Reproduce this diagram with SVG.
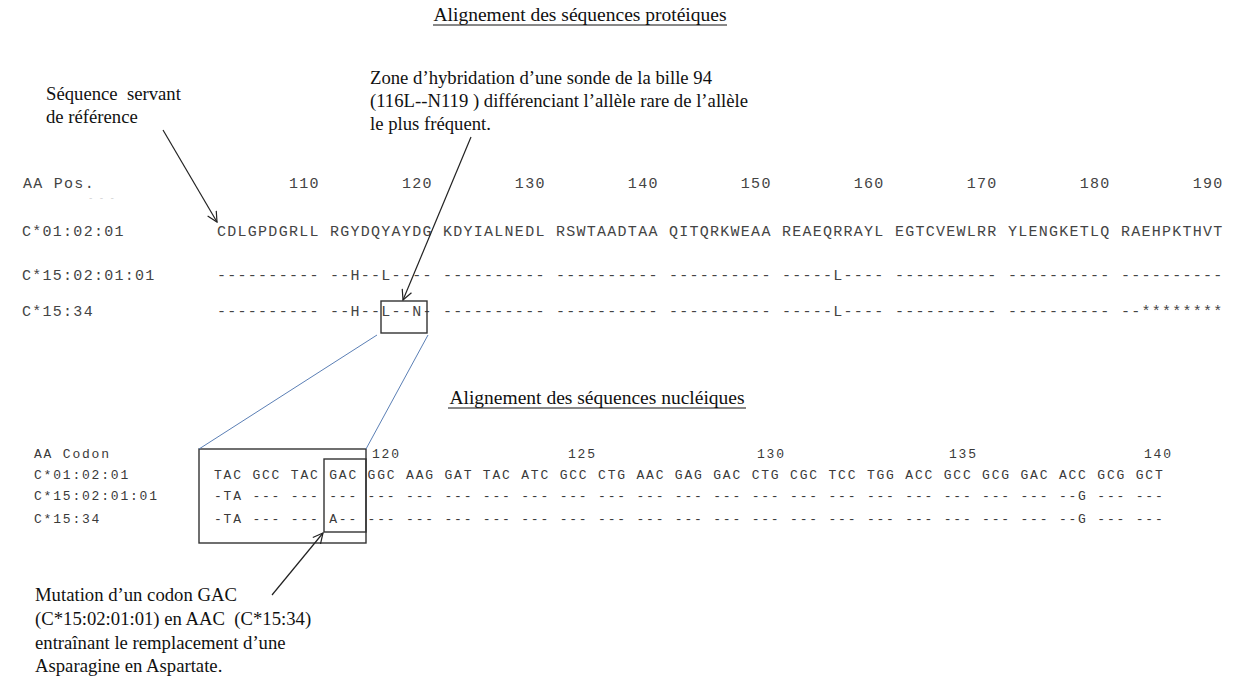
<svg xmlns="http://www.w3.org/2000/svg" width="1235" height="676" viewBox="0 0 1235 676">
<defs>
<style>
.serif{font-family:"Liberation Serif","Times New Roman",serif;font-size:18.7px;fill:#111}
.title{font-family:"Liberation Serif","Times New Roman",serif;font-size:19.5px;fill:#111}
.prot{font-family:"Liberation Mono","Courier New",monospace;font-size:15px;letter-spacing:1.27px;fill:#444}
.nuc{font-family:"Liberation Mono","Courier New",monospace;font-size:13px;letter-spacing:1.8px;fill:#3a3a3a}
.ul{stroke:#111;stroke-width:1}
.box{fill:none;stroke:#333;stroke-width:1.4}
.arr{fill:none;stroke:#222;stroke-width:1.2}
.blue{fill:none;stroke:#5b7fb5;stroke-width:1}
</style>
<marker id="head" viewBox="0 0 12 12" refX="11" refY="6" markerWidth="12" markerHeight="12" markerUnits="userSpaceOnUse" orient="auto">
<path d="M1,1 L11,6 L1,11" fill="none" stroke="#222" stroke-width="1.2"/>
</marker>
</defs>
<rect x="0" y="0" width="1235" height="676" fill="#fff"/>

<g id="title-proteines">
<text class="title" x="580" y="21" text-anchor="middle">Alignement des séquences protéiques</text>
<line class="ul" x1="433" y1="25" x2="727" y2="25"/>
</g>

<g id="note-reference">
<text class="serif" x="46" y="100" xml:space="preserve">Séquence  servant</text>
<text class="serif" x="46" y="123">de référence</text>
</g>

<g id="note-hybridation">
<text class="serif" x="370" y="84">Zone d’hybridation d’une sonde de la bille 94</text>
<text class="serif" x="370" y="107">(116L--N119 ) différenciant l’allèle rare de l’allèle</text>
<text class="serif" x="370" y="130">le plus fréquent.</text>
</g>

<g id="protein-alignment">
<text class="prot" x="23" y="188">AA Pos.</text>
<text x="88" y="201" font-family="Liberation Mono, monospace" font-size="9" fill="#d0d0d0">- - -</text>
<text class="prot" x="217" y="188" xml:space="preserve">       110        120        130        140        150        160        170        180        190</text>
<text class="prot" x="22" y="236">C*01:02:01</text>
<text class="prot" x="217" y="236" xml:space="preserve">CDLGPDGRLL RGYDQYAYDG KDYIALNEDL RSWTAADTAA QITQRKWEAA REAEQRRAYL EGTCVEWLRR YLENGKETLQ RAEHPKTHVT</text>
<text class="prot" x="22" y="280">C*15:02:01:01</text>
<text class="prot" x="217" y="280" xml:space="preserve">---------- --H--L---- ---------- ---------- ---------- -----L---- ---------- ---------- ----------</text>
<text class="prot" x="22" y="316">C*15:34</text>
<text class="prot" x="217" y="316" xml:space="preserve">---------- --H--L--N- ---------- ---------- ---------- -----L---- ---------- ---------- --********</text>
</g>

<g id="protein-box">
<rect class="box" x="381" y="301" width="46" height="32"/>
</g>

<g id="title-nucleiques">
<text class="title" x="597" y="404" text-anchor="middle" font-size="20">Alignement des séquences nucléiques</text>
<line class="ul" x1="448" y1="408" x2="746" y2="408"/>
</g>

<g id="nucleic-alignment">
<text class="nuc" x="34" y="458">AA Codon</text>
<text class="nuc" x="372" y="458">120</text>
<text class="nuc" x="568" y="458">125</text>
<text class="nuc" x="757" y="458">130</text>
<text class="nuc" x="949" y="458">135</text>
<text class="nuc" x="1144" y="458">140</text>
<text class="nuc" x="34" y="479">C*01:02:01</text>
<text class="nuc" x="214" y="479" xml:space="preserve">TAC GCC TAC GAC GGC AAG GAT TAC ATC GCC CTG AAC GAG GAC CTG CGC TCC TGG ACC GCC GCG GAC ACC GCG GCT</text>
<text class="nuc" x="34" y="500">C*15:02:01:01</text>
<text class="nuc" x="214" y="500" xml:space="preserve">-TA --- --- --- --- --- --- --- --- --- --- --- --- --- --- --- --- --- --- --- --- --- --G --- ---</text>
<text class="nuc" x="34" y="523">C*15:34</text>
<text class="nuc" x="214" y="523" xml:space="preserve">-TA --- --- A-- --- --- --- --- --- --- --- --- --- --- --- --- --- --- --- --- --- --- --G --- ---</text>
</g>

<g id="nucleic-box-outer">
<rect class="box" x="199" y="449" width="167" height="94"/>
</g>
<g id="nucleic-box-inner">
<rect class="box" x="324" y="459" width="42" height="73"/>
</g>

<g id="note-mutation">
<text class="serif" x="35" y="601" font-size="19">Mutation d’un codon GAC</text>
<text class="serif" x="35" y="625" font-size="19" xml:space="preserve">(C*15:02:01:01) en AAC  (C*15:34)</text>
<text class="serif" x="35" y="649" font-size="19">entraînant le remplacement d’une</text>
<text class="serif" x="35" y="672" font-size="19">Asparagine en Aspartate.</text>
</g>

<g id="connectors">
<line class="arr" x1="163" y1="130" x2="217" y2="222" marker-end="url(#head)"/>
<line class="arr" x1="471" y1="137" x2="403" y2="300" marker-end="url(#head)"/>
<line class="blue" x1="377" y1="335" x2="199" y2="449"/>
<line class="blue" x1="428" y1="335" x2="366" y2="449"/>
<line class="arr" x1="272" y1="595" x2="323" y2="533" marker-end="url(#head)"/>
</g>
</svg>
